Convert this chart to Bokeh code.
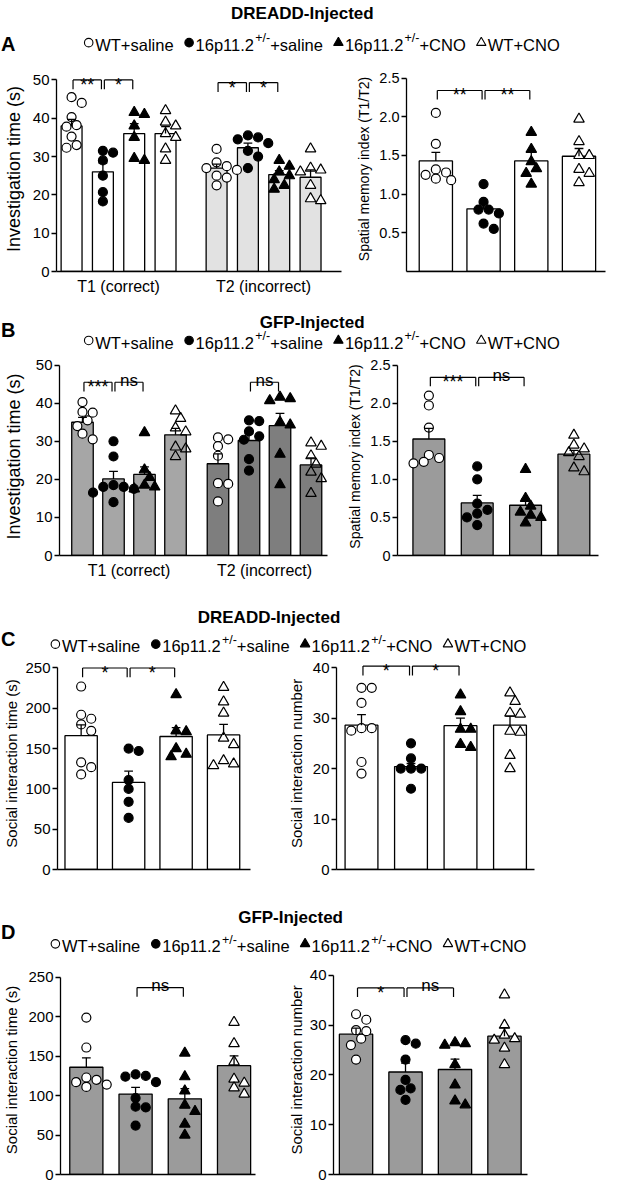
from bokeh.plotting import figure
from bokeh.layouts import column, row
from bokeh.models import Range1d, FixedTicker
from bokeh.embed import file_html
from bokeh.resources import INLINE
from bokeh.core.properties import value

FONT = "Liberation Sans"

# ---------------- data ----------------
groups = ["WT+saline", "16p11.2+/-+saline", "16p11.2+/-+CNO", "WT+CNO"]
group_marker = ["circle", "circle", "triangle", "triangle"]
group_fill = ["white", "black", "black", "white"]

# A: DREADD, object location, investigation time (s)
a_t1_points = [[45.5, 44.0, 40.3, 38.2, 37.8, 35.2, 33.0, 32.3],
               [31.5, 31.0, 29.0, 25.0, 20.7, 18.3],
               [41.5, 41.0, 38.0, 35.0, 29.5, 29.0],
               [42.0, 39.0, 38.0, 36.0, 35.0, 32.0, 29.0]]
a_t1_mean = [38.0, 26.0, 36.0, 36.0]
a_t1_sem = [1.7, 2.3, 2.6, 1.8]
a_t2_points = [[32.0, 28.5, 27.5, 27.0, 26.5, 25.0, 24.5, 22.5],
               [35.5, 35.0, 34.5, 33.5, 31.5, 30.0, 27.0],
               [29.0, 27.5, 26.0, 25.0, 24.0, 22.5, 21.5],
               [32.0, 27.0, 26.5, 26.0, 22.5, 19.0, 18.5]]
a_t2_mean = [27.0, 32.3, 25.3, 24.6]
a_t2_sem = [1.0, 1.2, 1.0, 1.9]
# A: spatial memory index
a_smi_points = [[2.05, 1.65, 1.32, 1.28, 1.25, 1.20, 1.18],
                [1.13, 0.90, 0.80, 0.80, 0.75, 0.62, 0.55],
                [1.80, 1.58, 1.42, 1.33, 1.27, 1.13],
                [1.97, 1.68, 1.50, 1.50, 1.32, 1.27, 1.15]]
a_smi_mean = [1.43, 0.81, 1.43, 1.49]
a_smi_sem = [0.11, 0.07, 0.11, 0.10]

# B: GFP, investigation time (s)
b_t1_points = [[40.3, 37.7, 37.5, 35.5, 34.0, 32.0, 30.5],
               [30.0, 26.0, 18.5, 18.0, 18.0, 17.5, 16.5, 14.0],
               [32.3, 22.5, 20.5, 18.5, 18.0, 17.5],
               [38.0, 36.0, 33.5, 32.5, 28.5, 28.0, 26.0]]
b_t1_mean = [35.0, 20.1, 21.3, 31.7]
b_t1_sem = [1.3, 2.0, 2.0, 1.7]
b_t2_points = [[31.0, 30.5, 28.7, 26.2, 19.0, 18.8, 14.2],
               [35.5, 35.3, 32.6, 31.3, 30.4, 25.3, 22.3],
               [41.6, 41.2, 40.7, 35.0, 34.3, 26.6, 18.6],
               [29.6, 28.7, 26.2, 24.0, 21.9, 20.2, 16.3]]
b_t2_mean = [24.1, 30.2, 34.1, 23.8]
b_t2_sem = [2.6, 1.8, 3.2, 1.8]
b_smi_points = [[2.10, 1.97, 1.68, 1.32, 1.28, 1.23, 1.21],
                [1.17, 1.00, 0.68, 0.60, 0.55, 0.50, 0.40],
                [1.13, 0.75, 0.65, 0.57, 0.53, 0.50, 0.43],
                [1.58, 1.45, 1.40, 1.35, 1.30, 1.15, 1.10]]
b_smi_mean = [1.53, 0.69, 0.66, 1.33]
b_smi_sem = [0.14, 0.10, 0.08, 0.05]

# C: DREADD, social interaction
c_time_points = [[227, 192, 187, 180, 172, 133, 127, 118],
                 [150, 147, 111, 100, 84, 64],
                 [217, 172, 171, 150, 143, 140],
                 [226, 208, 194, 163, 155, 135, 131, 129]]
c_time_mean = [166, 108, 165, 167]
c_time_sem = [13.5, 14, 11, 13]
c_num_points = [[36, 36, 33, 28, 28, 27.5, 21.3, 19],
                [25, 22, 20, 20, 20, 16],
                [34.6, 31.3, 27.8, 27.8, 24.8, 24.2],
                [35, 33.3, 31, 30.8, 27.4, 27.2, 22.6, 20]]
c_num_mean = [28.6, 20.4, 28.5, 28.6]
c_num_sem = [2.1, 0.6, 1.5, 1.8]

# D: GFP, social interaction
d_time_points = [[199, 161, 123, 120, 117, 114, 111],
                 [127, 125, 124, 117, 97, 86, 85, 62],
                 [154, 124, 106, 88, 80, 64, 50],
                 [193, 166, 143, 121, 116, 110, 102]]
d_time_mean = [136, 102, 96, 138]
d_time_sem = [12, 8.5, 13, 12.5]
d_num_points = [[32.2, 31.1, 29, 28.8, 27.3, 26, 23.1],
                [27, 26.3, 23.1, 19, 17.3, 17, 15],
                [26.5, 26.3, 26, 22.1, 18, 14.8, 14],
                [36.1, 30, 28, 27.3, 27, 25.4, 22.1]]
d_num_mean = [28.2, 20.6, 21.1, 27.8]
d_num_sem = [1.2, 1.8, 2.1, 1.7]

# significance: (bar index a, bar index b, height, label)
a_left_sig = [(0, 1, 50, "**"), (1, 2, 50, "*"), (4, 5, 49.3, "*"), (5, 6, 49.3, "*")]
a_right_sig = [(0, 1, 2.34, "**"), (1, 2, 2.34, "**")]
b_left_sig = [(0, 1, 45.5, "***"), (1, 2, 45.5, "ns"), (5, 6, 45.5, "ns")]
b_right_sig = [(0, 1, 2.34, "***"), (1, 2, 2.34, "ns")]
c_left_sig = [(0, 1, 250, "*"), (1, 2, 250, "*")]
c_right_sig = [(0, 1, 40.3, "*"), (1, 2, 40.3, "*")]
d_left_sig = [(1, 2, 237, "ns")]
d_right_sig = [(0, 1, 37.5, "*"), (1, 2, 37.5, "ns")]

# ---------------- layout helpers ----------------
def lx(x):
    return (x - 2.0) * 0.98


def ly(y):
    return (y - 2.0) * 0.986


def R(v):
    return int(round(v))


AW = {'W': 944, 'T': 611, '+': 584, 's': 500, 'a': 556, 'l': 222, 'i': 222, 'n': 556,
      'e': 556, '1': 556, '6': 556, 'p': 556, '.': 278, '2': 556, '/': 278, '-': 333,
      'C': 722, 'N': 722, 'O': 778}


def tw(s, fs):
    return sum(AW.get(ch, 556) for ch in s) * fs / 1000.0


TOTAL_W = R(lx(620.5))
LEG_FS = 16.5
SUP_FS = 12.5


def header(y0, y1, title, title_cx, title_base, letter, letter_base, leg_x0, leg_base):
    top = R(ly(y0))
    H = R(ly(y1)) - top
    W = TOTAL_W
    p = figure(width=W, height=H, x_range=Range1d(0, W), y_range=Range1d(H, 0),
               x_axis_type=None, y_axis_type=None, toolbar_location=None,
               output_backend="svg", min_border=0, outline_line_color=None)
    p.xgrid.visible = False
    p.ygrid.visible = False

    def Y(y):
        return ly(y) - top

    p.text(x=[lx(title_cx)], y=[Y(title_base)], text=[title], text_font=value(FONT),
           text_font_size="17px", text_font_style="bold", text_align="center",
           text_baseline="alphabetic", text_color="black")
    p.text(x=[0.5], y=[Y(letter_base)], text=[letter], text_font=value(FONT),
           text_font_size="20px", text_font_style="bold", text_align="left",
           text_baseline="alphabetic", text_color="black")
    mx = lx(leg_x0)
    for g in range(4):
        my = Y(leg_base) - 2.2
        p.scatter([mx], [my], marker=group_marker[g], size=8.5 if group_marker[g] == "circle" else 9.5,
                  fill_color=group_fill[g], line_color="black", line_width=1.1)
        x = mx + 6.5
        name = groups[g]
        if "+/-" in name:
            pre, post = name.split("+/-")
            pieces = [(pre, False), ("+/-", True), (post, False)]
        else:
            pieces = [(name, False)]
        for txt, sup in pieces:
            fs = SUP_FS if sup else LEG_FS
            yy = Y(leg_base) - (6.5 if sup else 0)
            p.text(x=[x], y=[yy], text=[txt], text_font=value(FONT), text_font_size="%spx" % fs,
                   text_align="left", text_baseline="alphabetic", text_color="black")
            x += tw(txt, fs)
        mx = x + 15.5
    return p


def swarm_offsets(vals, ppu, sp, diam=9.5):
    order = sorted(range(len(vals)), key=lambda i: -vals[i])
    placed = []
    offs = [0.0] * len(vals)
    step = diam * 0.55
    cands = [0.0]
    for m in range(1, 8):
        cands += [m * step, -m * step]
    for i in order:
        yp = vals[i] * ppu
        chosen = cands[-1]
        for c in cands:
            if all((c - px) ** 2 + (yp - py) ** 2 >= (diam * 0.92) ** 2 for px, py in placed):
                chosen = c
                break
        placed.append((chosen, yp))
        offs[i] = chosen / sp
    return offs


def chart(fx, fy, frx, zero, ppu, ytop, ybound, yticks, xc0, sp, bar_px, sets, sig,
          ylabel, ylab_fs, tick_fs, ylab_so, cats=None, cat_fs=16, ytick_over=None,
          tri_fill=None):
    W = R(lx(fx[1])) - R(lx(fx[0]))
    H = R(ly(fy[1])) - R(ly(fy[0]))
    frame_top = zero - ytop * ppu
    mbl = R(lx(frx[0])) - R(lx(fx[0]))
    mbr = R(lx(fx[1])) - R(lx(frx[1]))
    mbt = R(ly(frame_top)) - R(ly(fy[0]))
    mbb = R(ly(fy[1])) - R(ly(zero))
    xs = (frx[0] - xc0) / sp
    xe = (frx[1] - xc0) / sp
    p = figure(width=W, height=H, x_range=Range1d(xs, xe), y_range=Range1d(0, ytop),
               toolbar_location=None, output_backend="svg",
               min_border_left=mbl, min_border_right=mbr, min_border_top=mbt,
               min_border_bottom=mbb, outline_line_color=None)
    p.xgrid.visible = False
    p.ygrid.visible = False

    # y axis
    ya = p.yaxis[0]
    ya.ticker = FixedTicker(ticks=yticks)
    ya.bounds = (0, ybound)
    ya.minor_tick_line_color = None
    ya.major_tick_out = 5
    ya.major_tick_in = 0
    ya.major_label_standoff = 2
    ya.axis_line_width = 1.3
    ya.major_tick_line_width = 1.3
    ya.axis_line_color = "black"
    ya.major_tick_line_color = "black"
    ya.major_label_text_font = FONT
    ya.major_label_text_font_size = "%spx" % tick_fs
    ya.major_label_text_color = "black"
    ya.axis_label = ylabel
    ya.axis_label_text_font = FONT
    ya.axis_label_text_font_size = "%spx" % ylab_fs
    ya.axis_label_text_font_style = "normal"
    ya.axis_label_text_color = "black"
    ya.axis_label_standoff = ylab_so
    if ytick_over:
        ya.major_label_overrides = ytick_over

    # x axis
    xa = p.xaxis[0]
    xa.axis_line_width = 1.3
    xa.axis_line_color = "black"
    xa.major_tick_line_color = None
    xa.minor_tick_line_color = None
    xa.major_tick_out = 0
    xa.major_tick_in = 0
    xa.minor_tick_out = 0
    xa.major_label_text_font = FONT
    xa.major_label_text_font_size = "%spx" % cat_fs
    xa.major_label_text_color = "black"
    xa.major_label_standoff = 6
    if cats:
        xa.ticker = FixedTicker(ticks=[c[0] for c in cats])
        xa.major_label_overrides = {c[0]: c[1] for c in cats}
    else:
        xa.ticker = FixedTicker(ticks=[])
        xa.major_label_standoff = 0

    bw = bar_px / sp
    cap = 4.5 / sp
    flat_pos = []
    for s in sets:
        pos = s["pos"]
        flat_pos += pos
        p.vbar(x=pos, top=s["mean"], bottom=0, width=bw, fill_color=s["color"],
               line_color="black", line_width=1.3)
        for g in range(4):
            offs = swarm_offsets(s["pts"][g], ppu, sp)
            xx = [pos[g] + o for o in offs]
            alpha = 1.0
            if group_marker[g] == "triangle" and group_fill[g] == "white" and tri_fill is not None:
                alpha = 0.0
            p.scatter(xx, s["pts"][g], marker=group_marker[g],
                      size=9 if group_marker[g] == "circle" else 10.5,
                      fill_color=group_fill[g], fill_alpha=alpha, line_color="black", line_width=1.2)
        tops = [m + e for m, e in zip(s["mean"], s["sem"])]
        p.segment(x0=pos, y0=s["mean"], x1=pos, y1=tops, line_color="black", line_width=1.3)
        p.segment(x0=[q - cap for q in pos], y0=tops, x1=[q + cap for q in pos], y1=tops,
                  line_color="black", line_width=1.3)

    leg = 9.5 / ppu
    inset = 1.5 / sp
    sx0, sy0, sx1, sy1 = [], [], [], []
    for a, b, h, lab in sig:
        x1 = flat_pos[a] + inset
        x2 = flat_pos[b] - inset
        sx0 += [x1, x1, x2]
        sy0 += [h, h, h]
        sx1 += [x2, x1, x2]
        sy1 += [h, h - leg, h - leg]
        if lab == "ns":
            p.text(x=[(x1 + x2) / 2], y=[h], text=[lab], text_font=value(FONT),
                   text_font_size="17px", text_align="center", text_baseline="alphabetic",
                   y_offset=-2, text_color="black")
        else:
            p.text(x=[(x1 + x2) / 2], y=[h], text=[lab], text_font=value(FONT),
                   text_font_size="18px", text_align="center", text_baseline="alphabetic",
                   y_offset=5, text_color="black")
    if sig:
        p.segment(x0=sx0, y0=sy0, x1=sx1, y1=sy1, line_color="black", line_width=1.2)
    return p


def sets_left(g2, t1p, t1m, t1s, c1, t2p, t2m, t2s, c2):
    return [dict(pos=[0, 1, 2, 3], pts=t1p, mean=t1m, sem=t1s, color=c1),
            dict(pos=[g2, g2 + 1, g2 + 2, g2 + 3], pts=t2p, mean=t2m, sem=t2s, color=c2)]


def sets_one(p_, m_, s_, c_):
    return [dict(pos=[0, 1, 2, 3], pts=p_, mean=m_, sem=s_, color=c_)]


GAP_A = 4.63
GAP_B = 4.37
RIGHT = 620.5
SMI_TICKS = [0.5, 1.0, 1.5, 2.0, 2.5]
SMI_LABELS = {0.5: "0.5", 1.0: "1.0", 1.5: "1.5", 2.0: "2.0", 2.5: "2.5"}

# ----- Panel A -----
hA = header(2, 62, "DREADD-Injected", 310, 15, "A", 46, 92, 47)
pA1 = chart((2, 355), (62, 305), (57, 350), 277.3, 3.89, 53.5, 50, [0, 10, 20, 30, 40, 50],
            72.5, 32.2, 21.5,
            sets_left(GAP_A, a_t1_points, a_t1_mean, a_t1_sem, "white",
                      a_t2_points, a_t2_mean, a_t2_sem, "#e2e2e2"),
            a_left_sig, "Investigation time (s)", 18, 15, 6,
            cats=[(1.5, "T1 (correct)"), (GAP_A + 1.5, "T2 (incorrect)")])
pA2 = chart((355, RIGHT), (62, 305), (416, 619.5), 279, 81.3, 2.65, 2.5, SMI_TICKS,
            446, 48.8, 34, sets_one(a_smi_points, a_smi_mean, a_smi_sem, "white"),
            a_right_sig, "Spatial memory index (T1/T2)", 14, 14.5, 4, ytick_over=SMI_LABELS)

# ----- Panel B -----
hB = header(305, 360, "GFP-Injected", 320, 329, "B", 336, 92, 349)
pB1 = chart((2, 345), (360, 600), (62, 336), 565, 3.886, 52, 50, [0, 10, 20, 30, 40, 50],
            85.5, 31.7, 22,
            sets_left(GAP_B, b_t1_points, b_t1_mean, b_t1_sem, "#a6a6a6",
                      b_t2_points, b_t2_mean, b_t2_sem, "#7e7e7e"),
            b_left_sig, "Investigation time (s)", 18, 15, 9,
            cats=[(1.5, "T1 (correct)"), (GAP_B + 1.5, "T2 (incorrect)")],
            tri_fill="none")
B_SMI_LABELS = dict(SMI_LABELS)
B_SMI_LABELS[0] = "0"
pB2 = chart((345, RIGHT), (360, 600), (407, 612), 575, 81.3, 2.6, 2.5, [0] + SMI_TICKS,
            439, 49.3, 32.5, sets_one(b_smi_points, b_smi_mean, b_smi_sem, "#9b9b9b"),
            b_right_sig, "Spatial memory index (T1/T2)", 14, 14.5, 4,
            ytick_over=B_SMI_LABELS, tri_fill="none")

# ----- Panel C -----
hC = header(600, 666, "DREADD-Injected", 276, 628, "C", 650, 58, 657)
pC1 = chart((2, 285), (666, 905), (57, 257), 883, 0.816, 263, 250, [0, 50, 100, 150, 200, 250],
            81.5, 49.2, 33.5, sets_one(c_time_points, c_time_mean, c_time_sem, "white"),
            c_left_sig, "Social interaction time (s)", 15, 15, 2)
pC2 = chart((285, RIGHT), (666, 905), (345, 547), 884, 5.125, 42, 40, [0, 10, 20, 30, 40],
            370.5, 50.5, 33.5, sets_one(c_num_points, c_num_mean, c_num_sem, "white"),
            c_right_sig, "Social interaction number", 15, 15, 5)

# ----- Panel D -----
hD = header(905, 975, "GFP-Injected", 298, 932, "D", 947, 58, 961)
pD1 = chart((2, 285), (975, 1203), (62, 262), 1195, 0.809, 265, 250, [0, 50, 100, 150, 200, 250],
            88.5, 50.5, 34, sets_one(d_time_points, d_time_mean, d_time_sem, "#9b9b9b"),
            d_left_sig, "Social interaction time (s)", 15, 15, 5)
pD2 = chart((285, RIGHT), (975, 1203), (342, 540), 1193, 5.125, 42, 40, [0, 10, 20, 30, 40],
            365, 50.5, 34, sets_one(d_num_points, d_num_mean, d_num_sem, "#9b9b9b"),
            d_right_sig, "Social interaction number", 15, 15, 2)

layout = column(hA, row(pA1, pA2), hB, row(pB1, pB2), hC, row(pC1, pC2), hD, row(pD1, pD2))

with open("out.html", "w") as f:
    f.write(file_html(layout, INLINE))
